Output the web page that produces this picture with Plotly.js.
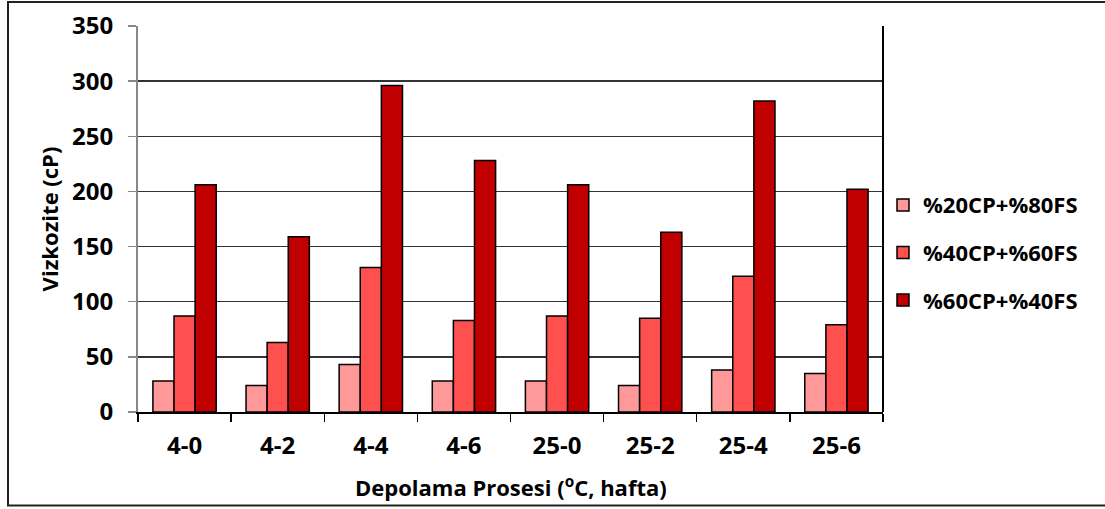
<!DOCTYPE html>
<html>
<head>
<meta charset="utf-8">
<script src="https://cdn.plot.ly/plotly-3.0.1.min.js"></script>
<style>
  html, body { margin: 0; padding: 0; background: #fff; }
  #chart { width: 1105px; height: 509px; }
</style>
</head>
<body>
<div id="chart"></div>
<script>
const categories = ["4-0", "4-2", "4-4", "4-6", "25-0", "25-2", "25-4", "25-6"];
const seriesNames = ["%20CP+%80FS", "%40CP+%60FS", "%60CP+%40FS"];
const cp20 = [28, 24, 43, 28, 28, 24, 38, 35];
const cp40 = [87, 63, 131, 83, 87, 85, 123, 79];
const cp60 = [206, 159, 296, 228, 206, 163, 282, 202];
const colors = ["#FF9999", "#FF5050", "#C00000"];
const yTicks = [0, 50, 100, 150, 200, 250, 300, 350];
const xTitle = "Depolama Prosesi (<sup>o</sup>C, hafta)";
const yTitle = "Vizkozite (cP)";

const FONT = "'Open Sans', Lato, 'Liberation Sans', sans-serif";
const FS = 22;   // titles and legend
const TFS = 24;  // tick labels
const values = [cp20, cp40, cp60];

const traces = values.map((v, i) => ({
  type: "bar",
  name: seriesNames[i],
  x: categories,
  y: v,
  legendgroup: "g" + i,
  marker: { color: colors[i], line: { color: "#000", width: 1.5 } },
  hoverinfo: "x+y+name"
}));

// plot area pixels: left 138, right 883, top 26, bottom 412.5
const L = 138, R = 883, T = 26, B = 412.5;
const W = R - L, H = B - T;
const px = x => (x - L) / W;
const py = y => (B - y) / H;

const layout = {
  width: 1105,
  height: 509,
  margin: { l: L, r: 1105 - R, t: T, b: 509 - B, pad: 0 },
  paper_bgcolor: "#fff",
  plot_bgcolor: "#fff",
  barmode: "group",
  bargap: 0.32,
  bargroupgap: 0,
  font: { family: FONT, color: "#000", size: FS, weight: "bold" },
  showlegend: true,
  legend: {
    x: 1.0, xanchor: "left",
    y: 0.413, yanchor: "middle",
    font: { family: FONT, size: FS, weight: "bold", color: "#000" },
    tracegroupgap: 16,
    traceorder: "grouped",
    itemwidth: 30,
    bgcolor: "rgba(0,0,0,0)"
  },
  xaxis: {
    type: "category",
    tickson: "boundaries",
    ticks: "outside",
    ticklen: 8,
    tickcolor: "#000",
    tickwidth: 1.3,
    showline: true,
    linecolor: "#000",
    linewidth: 2,
    showgrid: false,
    tickfont: { family: FONT, size: TFS, weight: "bold" },
    ticklabelstandoff: 11,
    fixedrange: true
  },
  yaxis: {
    range: [0, 350],
    tickvals: yTicks,
    ticktext: yTicks.map(String),
    ticks: "outside",
    ticklen: 8,
    tickcolor: "#888",
    tickwidth: 1.3,
    showline: true,
    linecolor: "#888",
    linewidth: 2,
    showgrid: true,
    gridcolor: "#333",
    gridwidth: 1.3,
    zeroline: false,
    tickfont: { family: FONT, size: TFS, weight: "bold" },
    ticklabelstandoff: 10,
    title: {
      text: yTitle,
      font: { family: FONT, size: FS, weight: "bold" },
      standoff: 7
    },
    fixedrange: true
  },
  annotations: [
    { xref: "paper", yref: "paper", x: 0.5, y: py(487),
      xanchor: "center", yanchor: "middle", showarrow: false,
      text: xTitle, font: { family: FONT, size: FS, weight: "bold", color: "#000" } }
  ],
  shapes: [
    { type: "line", xref: "paper", yref: "paper", x0: 1, x1: 1, y0: 0, y1: 1,
      line: { color: "#000", width: 2 } },
    { type: "rect", xref: "paper", yref: "paper",
      x0: px(8), x1: px(1112), y0: py(506), y1: py(2),
      line: { color: "#222", width: 2 }, fillcolor: "rgba(0,0,0,0)", layer: "below" }
  ]
};

Plotly.newPlot("chart", traces, layout, { displayModeBar: false, staticPlot: true });
</script>
</body>
</html>
